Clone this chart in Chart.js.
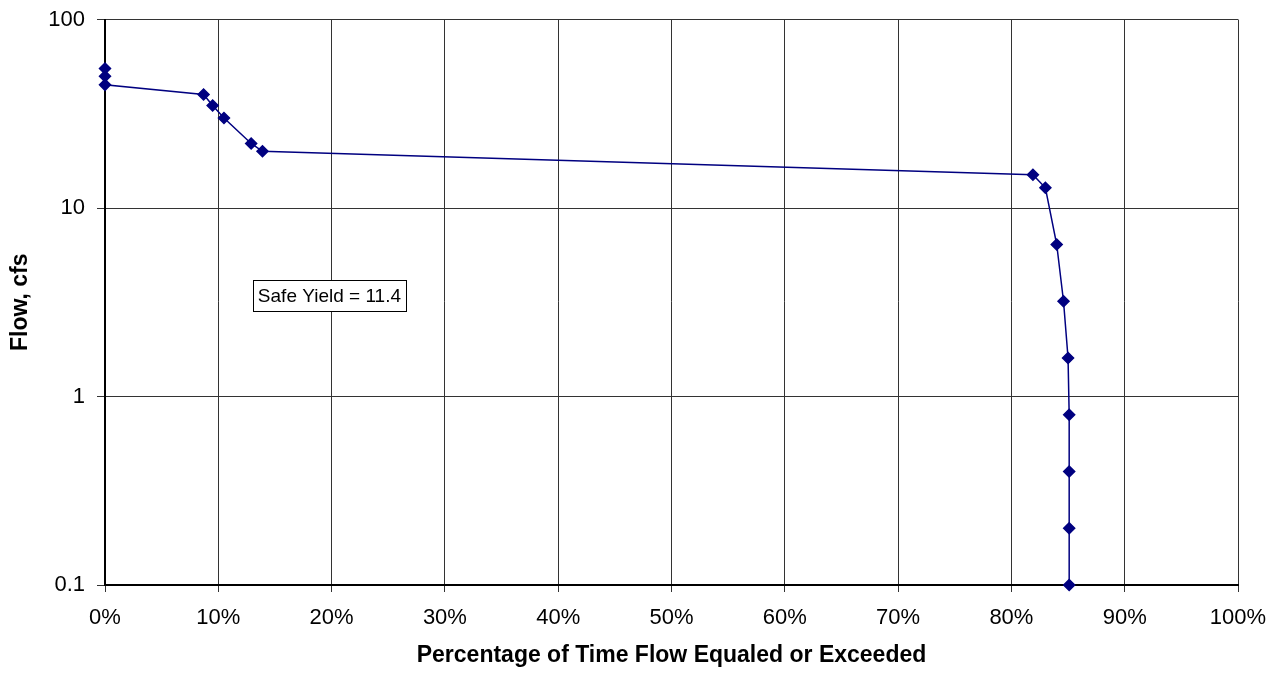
<!DOCTYPE html>
<html>
<head>
<meta charset="utf-8">
<script src="https://cdn.jsdelivr.net/npm/chart.js@4.4.1/dist/chart.umd.min.js"></script>
<style>
html,body{margin:0;padding:0;background:#fff;}
#wrap{width:1288px;height:675px;position:relative;}
</style>
</head>
<body>
<div id="wrap"><canvas id="c" width="1288" height="675"></canvas></div>
<script>
// Data (percentage of time flow equaled or exceeded, flow in cfs)
const pctExceeded = [0, 0, 0, 8.7, 9.5, 10.5, 12.9, 13.9, 81.9, 83.0, 84.0, 84.6, 85.0, 85.1, 85.1, 85.1, 85.1];
const flowCfs     = [55, 50, 45, 40, 35, 30, 22, 20, 15, 12.8, 6.4, 3.2, 1.6, 0.8, 0.4, 0.2, 0.1];
const yTickValues = [0.1, 1, 10, 100];
const xTickValues = [0, 10, 20, 30, 40, 50, 60, 70, 80, 90, 100];
const xTitle = 'Percentage of Time Flow Equaled or Exceeded';
const yTitle = 'Flow, cfs';
const noteText = 'Safe Yield = 11.4';
const notePos = {x: 13.05, y: 4.15};

const points = pctExceeded.map((x, i) => ({x: x, y: flowCfs[i]}));
const FONT = "'Liberation Sans', Arial, sans-serif";

const notePlugin = {
  id: 'note',
  afterDraw(chart) {
    const ctx = chart.ctx;
    const xs = chart.scales.x, ys = chart.scales.y;
    const px = xs.getPixelForValue(notePos.x);
    const py = ys.getPixelForValue(notePos.y);
    ctx.save();
    ctx.font = "19px " + FONT;
    const w = ctx.measureText(noteText).width;
    const padX = 5, h = 31;
    ctx.fillStyle = '#fff';
    ctx.fillRect(px, py, w + padX * 2, h);
    ctx.strokeStyle = '#000';
    ctx.lineWidth = 1;
    ctx.strokeRect(Math.round(px) + 0.5, Math.round(py) + 0.5, Math.round(w + padX * 2), h);
    ctx.fillStyle = '#000';
    ctx.textBaseline = 'middle';
    ctx.textAlign = 'left';
    ctx.fillText(noteText, px + padX, py + h / 2 + 1);
    ctx.restore();
  }
};

new Chart(document.getElementById('c'), {
  type: 'scatter',
  data: {
    datasets: [{
      data: points,
      showLine: true,
      clip: false,
      borderColor: '#000080',
      backgroundColor: '#000080',
      borderWidth: 1.5,
      pointStyle: 'rectRot',
      pointRadius: 5.5,
      pointHoverRadius: 5.5,
      tension: 0
    }]
  },
  options: {
    responsive: false,
    animation: false,
    events: [],
    layout: {padding: {left: 0, right: 50, top: 19.5, bottom: 0}},
    plugins: {legend: {display: false}, tooltip: {enabled: false}},
    scales: {
      x: {
        type: 'linear',
        min: 0, max: 100,
        afterBuildTicks(s) { s.ticks = xTickValues.map(v => ({value: v})); },
        afterFit(s) { s.height = 90; s.paddingLeft = 0; s.paddingRight = 0; },
        ticks: {
          callback: v => v + '%',
          color: '#000',
          font: {family: FONT, size: 22},
          padding: 13,
          maxRotation: 0,
          autoSkip: false
        },
        grid: {color: '#333', lineWidth: 1, tickLength: 7, drawTicks: true},
        border: {color: '#000', width: 2},
        title: {
          display: true, text: xTitle, color: '#000',
          font: {family: FONT, size: 23, weight: 'bold'},
          padding: {top: 0, bottom: 6}
        }
      },
      y: {
        type: 'logarithmic',
        min: 0.1, max: 100,
        afterBuildTicks(s) { s.ticks = yTickValues.map(v => ({value: v})); },
        afterFit(s) { s.width = 105; s.paddingTop = 0; s.paddingBottom = 0; },
        ticks: {
          callback: v => String(v),
          color: '#000',
          font: {family: FONT, size: 22},
          padding: 12,
          autoSkip: false
        },
        grid: {color: '#333', lineWidth: 1, tickLength: 8, drawTicks: true},
        border: {color: '#000', width: 2},
        title: {
          display: true, text: yTitle, color: '#000',
          font: {family: FONT, size: 23, weight: 'bold'},
          padding: {top: 7, bottom: 0}
        }
      }
    }
  },
  plugins: [notePlugin]
});
</script>
</body>
</html>
